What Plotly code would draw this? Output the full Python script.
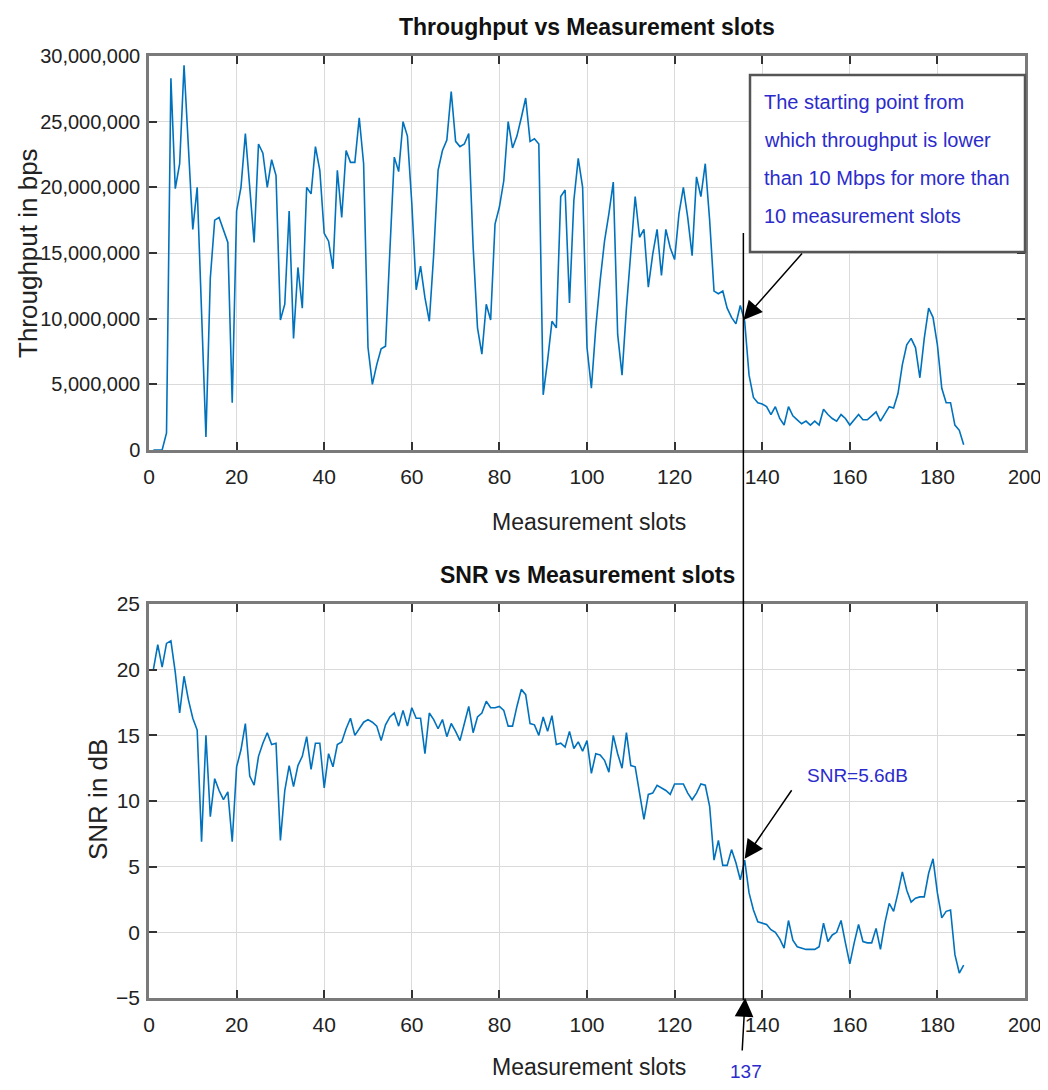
import plotly.graph_objects as go

slots = list(range(1, 187))

throughput_mbps = [
    0, 0, 0, 1.3, 28.3, 19.9, 21.8, 29.3, 22.6, 16.8,
    20.0, 10.8, 1.0, 13.1, 17.5, 17.7, 16.7, 15.8, 3.6, 18.2,
    20.0, 24.1, 20.0, 15.8, 23.3, 22.6, 20.0, 22.1, 20.9, 9.9,
    11.1, 18.2, 8.5, 13.9, 10.8, 20.0, 19.5, 23.1, 21.3, 16.5,
    15.9, 13.8, 21.3, 17.7, 22.8, 21.9, 21.9, 25.3, 21.8, 7.8,
    5.0, 6.5, 7.7, 7.9, 15.2, 22.3, 21.2, 25.0, 23.9, 18.8,
    12.2, 14.0, 11.6, 9.8, 14.9, 21.3, 22.8, 23.6, 27.3, 23.5,
    23.1, 23.3, 24.1, 15.5, 9.3, 7.3, 11.1, 9.9, 17.2, 18.5,
    20.5, 25.0, 23.0, 23.9, 25.3, 26.8, 23.5, 23.7, 23.3, 4.2,
    6.8, 9.8, 9.3, 19.3, 19.8, 11.2, 19.0, 22.2, 20.0, 7.8,
    4.7, 9.3, 12.9, 15.9, 18.0, 20.4, 8.8, 5.7, 10.8, 15.2,
    19.3, 16.2, 16.8, 12.4, 14.9, 16.8, 13.3, 16.8, 15.4, 14.5,
    18.0, 20.0, 17.7, 14.8, 20.8, 19.3, 21.8, 17.5, 12.1, 11.9,
    12.1, 10.8, 10.1, 9.6, 11.0, 9.8, 5.7, 4.0, 3.6, 3.5,
    3.3, 2.7, 3.3, 2.4, 1.9, 3.3, 2.6, 2.3, 2.0, 2.2,
    1.9, 2.2, 1.9, 3.1, 2.7, 2.4, 2.2, 2.7, 2.4, 1.9,
    2.3, 2.7, 2.3, 2.3, 2.6, 2.9, 2.2, 2.7, 3.3, 3.2,
    4.3, 6.5, 8.0, 8.5, 7.8, 5.5, 8.5, 10.8, 10.1, 8.0,
    4.7, 3.6, 3.6, 1.9, 1.5, 0.4]

snr_db = [
    20.0, 21.9, 20.2, 22.0, 22.2, 19.8, 16.7, 19.5, 17.7, 16.3,
    15.4, 6.9, 15.0, 8.8, 11.7, 10.8, 10.1, 10.7, 6.9, 12.6,
    13.9, 15.9, 11.9, 11.2, 13.4, 14.4, 15.2, 14.3, 14.4, 7.0,
    10.8, 12.7, 11.1, 12.7, 13.4, 14.9, 12.4, 14.4, 14.4, 11.0,
    13.6, 12.6, 14.3, 14.5, 15.5, 16.3, 15.0, 15.5, 16.0, 16.2,
    16.0, 15.7, 14.6, 15.8, 16.4, 16.7, 15.7, 16.9, 15.7, 17.1,
    16.3, 16.3, 13.6, 16.7, 16.2, 15.5, 16.2, 14.9, 15.9, 15.3,
    14.6, 15.9, 17.2, 15.2, 16.4, 16.7, 17.6, 17.1, 17.1, 17.2,
    16.9, 15.7, 15.7, 17.2, 18.5, 18.1, 15.9, 15.8, 15.0, 16.4,
    15.3, 16.5, 14.3, 14.4, 14.1, 15.3, 14.0, 14.5, 13.8, 14.6,
    12.1, 13.6, 13.5, 13.1, 12.2, 15.0, 13.6, 12.5, 15.2, 12.7,
    12.6, 10.6, 8.6, 10.5, 10.6, 11.2, 11.0, 10.8, 10.5, 11.3,
    11.3, 11.3, 10.6, 10.1, 10.6, 11.3, 11.2, 9.6, 5.5, 7.0,
    5.1, 5.1, 6.3, 5.3, 4.0, 5.5, 3.0, 1.7, 0.8, 0.7,
    0.6, 0.2, 0.0, -0.5, -1.2, 0.9, -0.6, -1.1, -1.2, -1.3,
    -1.3, -1.3, -1.1, 0.7, -0.7, -0.2, 0.0, 0.9, -0.8, -2.4,
    -0.8, 0.6, -0.7, -0.8, -0.8, 0.3, -1.3, 0.7, 2.2, 1.6,
    3.0, 4.6, 3.2, 2.3, 2.6, 2.7, 2.7, 4.5, 5.6, 3.0,
    1.1, 1.6, 1.7, -1.7, -3.1, -2.5]

throughput_bps = [v * 1e6 for v in throughput_mbps]

x_ticks = list(range(0, 201, 20))
x_ticktext = [str(v) for v in x_ticks[:-1]] + [""]   # last label drawn as text below
x_last_label = str(x_ticks[-1])
tp_ticks = list(range(0, 30000001, 5000000))
snr_ticks = [-5, 0, 5, 10, 15, 20, 25]

marker_slot = 135.7      # vertical marker line (labelled 137)
marker_tp = 9.9e6
marker_snr = 5.6

OFF = 8                  # page body margin in the browser
W, H = 1032, 1074        # page (figure + 2*OFF) fits the 1048x1090 window
L, R, T, B = 141, 15, 48, 84
PW, PH = W - L - R, H - T - B


def px(xp):
    return (xp - OFF - L) / PW


def py(yp):
    return (H - B - (yp - OFF)) / PH


FONT = "Liberation Sans, Arial, sans-serif"
LINE_COLOR = "#0072BD"
BLUE_TEXT = "#2b2bcc"

fig = go.Figure()
fig.add_trace(go.Scatter(x=slots, y=throughput_bps, mode="lines",
                         line=dict(color=LINE_COLOR, width=1.6),
                         xaxis="x", yaxis="y", showlegend=False))
fig.add_trace(go.Scatter(x=slots, y=snr_db, mode="lines",
                         line=dict(color=LINE_COLOR, width=1.6),
                         xaxis="x2", yaxis="y2", showlegend=False))

axis_common = dict(
    showline=True, linecolor="#7a7a7a", linewidth=2.5, mirror="ticks",
    ticks="inside", ticklen=8, tickwidth=1.5, tickcolor="#333333",
    showgrid=True, gridcolor="#dadada", gridwidth=1, zeroline=False,
)
xfont = dict(family=FONT, size=21, color="#222222")
yfont = dict(family=FONT, size=20, color="#222222")

top_dom = [py(450), py(56)]
bot_dom = [py(998), py(604)]

fig.update_layout(
    width=W, height=H, autosize=False,
    margin=dict(l=L, r=R, t=T, b=B),
    paper_bgcolor="white", plot_bgcolor="white",
    xaxis=dict(domain=[0, 1], range=[0, 200], tickvals=x_ticks, ticktext=x_ticktext,
               anchor="y", tickfont=xfont, ticklabelstandoff=6, **axis_common),
    yaxis=dict(domain=top_dom, range=[0, 30e6], tickvals=tp_ticks, tickformat=",d",
               anchor="x", tickfont=yfont, ticklabelstandoff=2, **axis_common),
    xaxis2=dict(domain=[0, 1], range=[0, 200], tickvals=x_ticks, ticktext=x_ticktext,
                anchor="y2", tickfont=xfont, ticklabelstandoff=6, **axis_common),
    yaxis2=dict(domain=bot_dom, range=[-5, 25], tickvals=snr_ticks, anchor="x2",
                tickfont=dict(family=FONT, size=21, color="#222222"),
                ticklabelstandoff=2, **axis_common),
)

annotations = []


def text(xp, yp, s, size, color="#222222", bold=False, angle=0, xanchor="center"):
    annotations.append(dict(
        x=px(xp), y=py(yp), xref="paper", yref="paper", text=("<b>%s</b>" % s) if bold else s,
        showarrow=False, xanchor=xanchor, yanchor="middle", textangle=angle,
        font=dict(family=FONT, size=size, color=color)))


text(587, 27, "Throughput vs Measurement slots", 23, "#111111", bold=True)
text(587, 575, "SNR vs Measurement slots", 23, "#111111", bold=True)
text(589, 522, "Measurement slots", 23)
text(589, 1067, "Measurement slots", 23)
text(28, 253, "Throughput in bps", 26, angle=-90)
text(98, 800, "SNR in dB", 26, angle=-90)

# last x tick label of each axis
text(1024, 477, x_last_label, 20)
text(1024, 1025, x_last_label, 20)

box_lines = ["The starting point from", "which throughput is lower",
             "than 10 Mbps for more than", "10 measurement slots"]
for i, s in enumerate(box_lines):
    text(762, 102 + i * 38, s, 20, BLUE_TEXT, xanchor="left")

text(857, 775, "SNR=5.6dB", 19, BLUE_TEXT)
text(746, 1071, "137", 19, BLUE_TEXT)

arrow_common = dict(showarrow=True, arrowhead=2, arrowsize=2.5, arrowwidth=1.5,
                    arrowcolor="black", text="", axref="pixel", ayref="pixel")
annotations.append(dict(x=marker_slot, y=marker_tp, xref="x", yref="y",
                        ax=60, ay=-68, **arrow_common))
annotations.append(dict(x=marker_slot + 0.3, y=marker_snr, xref="x2", yref="y2",
                        ax=48, ay=-70, **arrow_common))
annotations.append(dict(x=marker_slot + 0.4, y=-5, xref="x2", yref="y2",
                        ax=-3, ay=54, **arrow_common))

fig.update_layout(annotations=annotations)

shapes = [
    dict(type="rect", xref="paper", yref="paper", x0=px(750), x1=px(1025),
         y0=py(252), y1=py(75), line=dict(color="#555555", width=2.5),
         fillcolor="white", layer="above"),
    dict(type="line", xref="x", yref="paper", x0=marker_slot, x1=marker_slot,
         y0=py(233), y1=py(1000), line=dict(color="black", width=1.5), layer="above"),
]
fig.update_layout(shapes=shapes)

fig.write_html("out.html")
